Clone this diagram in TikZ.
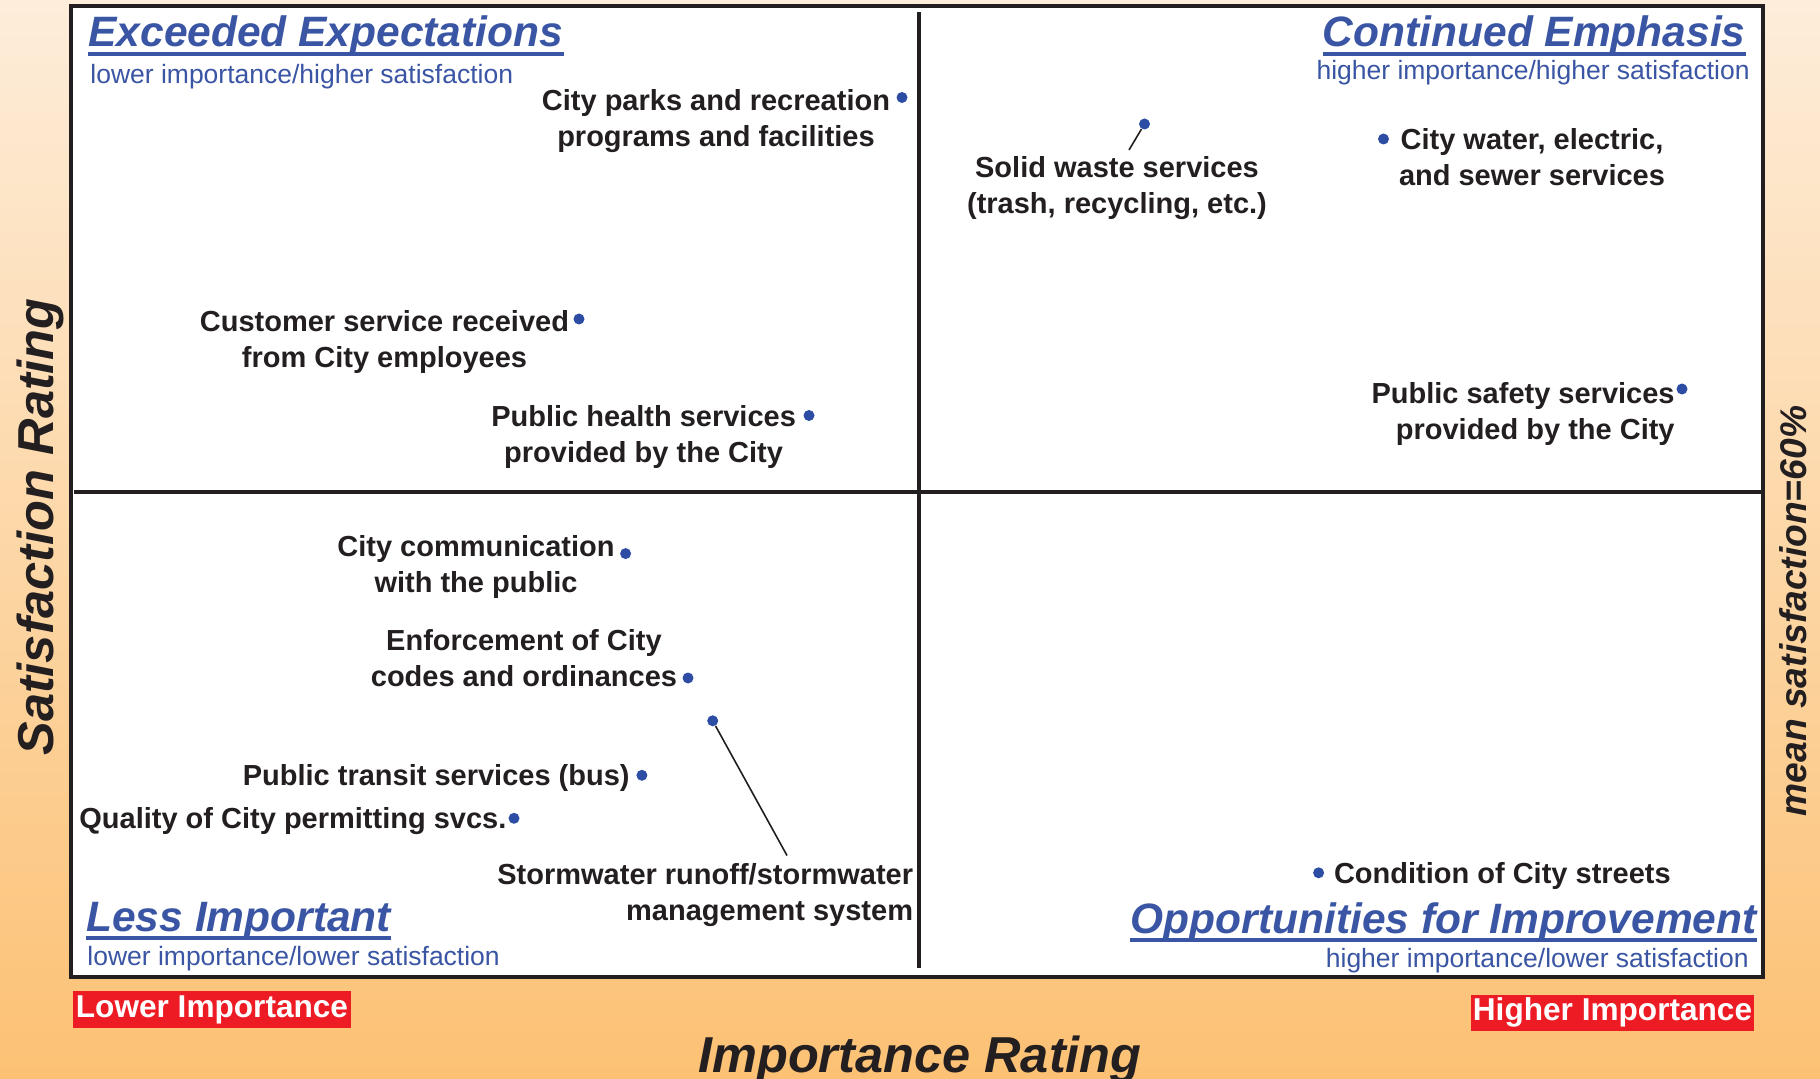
\documentclass[tikz,border=0pt]{standalone}
\usepackage{fontspec}
\setmainfont{Liberation Sans}
\definecolor{bgtop}{RGB}{253,237,218}
\definecolor{bgbot}{RGB}{252,193,116}
\definecolor{hblue}{RGB}{58,85,164}
\definecolor{dotblue}{RGB}{44,77,163}
\definecolor{ink}{RGB}{35,31,32}
\definecolor{redbox}{RGB}{237,28,36}
\tikzset{
  heading/.style={font=\fontsize{21.25}{25}\selectfont\bfseries\itshape, text=hblue, inner sep=0pt},
  subtitle/.style={font=\fontsize{13.25}{15}\selectfont, text=hblue, inner sep=0pt},
  item/.style={font=\fontsize{14.5}{18}\selectfont\bfseries, text=ink, inner sep=0pt},
  dot/.style={circle, fill=dotblue, inner sep=0pt, minimum size=5.5pt},
  leader/.style={ink, line width=0.8pt},
  axislabel/.style={font=\fontsize{25.25}{30}\selectfont\bfseries\itshape, text=ink, inner sep=0pt},
  redlabel/.style={fill=redbox, text=white, font=\fontsize{15.8}{18}\selectfont\bfseries, inner sep=0pt},
  uline/.style={hblue, line width=2pt},
  frameline/.style={ink, line width=1.75pt}
}
\begin{document}
\begin{tikzpicture}[x=0.5pt, y=-0.5pt]
\useasboundingbox (0,0) rectangle (1820,1079);
\shade[top color=bgtop, bottom color=bgbot] (0,0) rectangle (1820,1079);
\draw[frameline, fill=white] (71,6) rectangle (1763,977);
\draw[frameline] (919,12) -- (919,968);
\draw[frameline] (74,492) -- (1763,492);

% headings
\node[heading, anchor=base west] (h1) at (88,47) {Exceeded Expectations};
\draw[uline] ([yshift=-3.6pt]h1.base west) -- ([yshift=-3.6pt]h1.base east);
\node[heading, anchor=base east] (h2) at (1746,47) {Continued Emphasis};
\draw[uline] ([yshift=-3.6pt]h2.base west) -- ([yshift=-3.6pt]h2.base east);
\node[heading, anchor=base west] (h3) at (86,931) {Less Important};
\draw[uline] ([yshift=-3.6pt]h3.base west) -- ([yshift=-3.6pt]h3.base east);
\node[heading, anchor=base east] (h4) at (1757,933) {Opportunities for Improvement};
\draw[uline] ([yshift=-3.6pt]h4.base west) -- ([yshift=-3.6pt]h4.base east);

\node[subtitle, anchor=base west] (s1) at (90,84) {lower importance/higher satisfaction};
\node[subtitle, anchor=base east] (s2) at (1750,80) {higher importance/higher satisfaction};
\node[subtitle, anchor=base west] (s3) at (87,965) {lower importance/lower satisfaction};
\node[subtitle, anchor=base east] (s4) at (1749,967) {higher importance/lower satisfaction};

% items
\node[dot] (d1) at (902,97.5) {};
\node[item, align=center] (t1) at (716,121) {City parks and recreation\\programs and facilities};

\node[dot] (d2) at (1144.5,124) {};
\coordinate (c2) at (1129,150);
\draw[leader] (d2) -- (c2);
\node[item, align=center] (t2) at (1117,188) {Solid waste services\\(trash, recycling, etc.)};

\node[dot] (d3) at (1383.5,139) {};
\node[item, align=center] (t3) at (1532,157.5) {City water, electric,\\and sewer services};

\node[dot] (d4) at (579,319) {};
\node[item, align=center] (t4) at (384.5,342.5) {Customer service received\\from City employees};

\node[dot] (d5) at (809,415.5) {};
\node[item, align=center] (t5) at (643.6,437.5) {Public health services\\provided by the City};

\node[dot] (d6) at (1682,389) {};
\node[item, align=right, anchor=east] (t6) at (1675,414) {Public safety services\\provided by the City};

\node[dot] (d7) at (625.6,553.6) {};
\node[item, align=center] (t7) at (476,567) {City communication\\with the public};

\node[dot] (d8) at (688,678) {};
\node[item, align=center] (t8) at (524,658.5) {Enforcement of City\\codes and ordinances};

\node[dot] (d9) at (712.7,720.8) {};
\coordinate (c9) at (787,855.5);
\draw[leader] (d9) -- (c9);
\node[item, align=right, anchor=east] (t9) at (913.5,895) {Stormwater runoff/stormwater\\management system};

\node[dot] (d10) at (641.9,775.3) {};
\node[item, anchor=east] (t10) at (630,778.3) {Public transit services (bus)};

\node[dot] (d11) at (514,818.3) {};
\node[item, anchor=west] (t11) at (79,821) {Quality of City permitting svcs.};

\node[dot] (d12) at (1318.6,872.8) {};
\node[item, anchor=west] (t12) at (1333.6,875.5) {Condition of City streets};

% axis labels
\node[axislabel, anchor=base] (xl) at (920,1072) {Importance Rating};
\node[axislabel, rotate=90] (yl) at (40.6,527) {Satisfaction Rating};
\node[font=\fontsize{18.6}{21}\selectfont\bfseries\itshape, text=ink, inner sep=0pt, rotate=90] (ml) at (1793,611) {mean satisfaction=60\%};

\node[redlabel, minimum width=139pt, minimum height=18.5pt] (lo) at (212,1009.5) {Lower Importance};
\node[redlabel, minimum width=141.5pt, minimum height=18pt] (hi) at (1612.5,1012.5) {Higher Importance};
\end{tikzpicture}
\end{document}
